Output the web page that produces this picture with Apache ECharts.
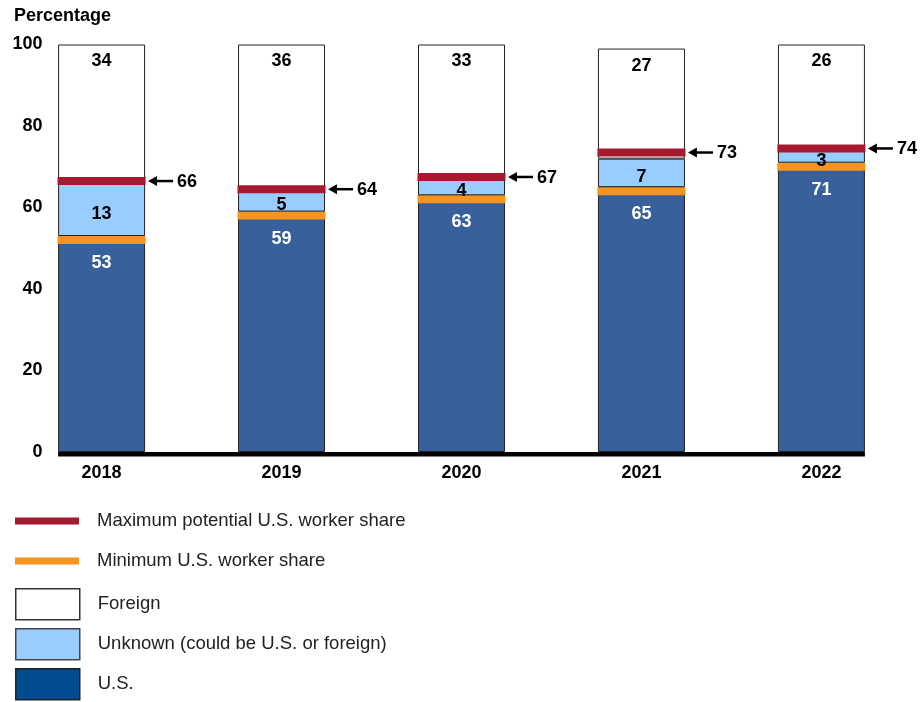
<!DOCTYPE html>
<html>
<head>
<meta charset="utf-8">
<script src="https://cdn.jsdelivr.net/npm/echarts@6/dist/echarts.min.js"></script>
<style>
html, body { margin: 0; padding: 0; background: #fff; }
#chart { width: 923px; height: 702px; }
</style>
</head>
<body>
<div id="chart"></div>
<script>
var years = ['2018', '2019', '2020', '2021', '2022'];
var usShare = [53, 59, 63, 65, 71];
var unknownShare = [13, 5, 4, 7, 3];
var foreignShare = [34, 36, 33, 27, 26];
var maxShare = [66, 64, 67, 73, 74];
var yTicks = [0, 20, 40, 60, 80, 100];

var FONT = '"Liberation Sans", Arial, sans-serif';
var US_C = '#38609b', UNK_C = '#99ccff', RED = '#a6192e', ORANGE = '#f7941d';
var barW = 87;

var chart = echarts.init(document.getElementById('chart'));

function bold(size) {
    return { fontFamily: FONT, fontWeight: 'bold', fontSize: size, color: '#000' };
}

// red band + arrow + value for the max potential share
function renderMax(params, api) {
    var p = api.coord([api.value(0), api.value(1)]);
    var half = barW / 2;
    var x1 = p[0] + half;
    return {
        type: 'group',
        children: [
            { type: 'rect', shape: { x: p[0] - half - 0.5, y: p[1] - 6, width: barW + 1, height: 8 }, style: { fill: RED } },
            { type: 'line', shape: { x1: x1 + 9, y1: p[1] - 2, x2: x1 + 28, y2: p[1] - 2 }, style: { stroke: '#000', lineWidth: 2.5 } },
            { type: 'polygon', shape: { points: [[x1 + 3, p[1] - 2], [x1 + 12, p[1] - 7], [x1 + 12, p[1] + 3]] }, style: { fill: '#000' } },
            { type: 'text', style: { text: String(api.value(1)), x: x1 + 32, y: p[1] - 1, verticalAlign: 'middle', font: 'bold 18px ' + FONT, fill: '#000' } }
        ]
    };
}

// orange band sitting just under the top of the U.S. segment
function renderMin(params, api) {
    var p = api.coord([api.value(0), api.value(1)]);
    var half = barW / 2;
    return {
        type: 'rect',
        shape: { x: p[0] - half - 0.5, y: p[1], width: barW + 1, height: 8 },
        style: { fill: ORANGE }
    };
}

// thick baseline from first bar to last bar
function renderBase(params, api) {
    var a = api.coord([0, 0]);
    var b = api.coord([years.length - 1, 0]);
    var half = barW / 2;
    return {
        type: 'rect',
        shape: { x: a[0] - half, y: a[1], width: b[0] - a[0] + barW, height: 4.5 },
        style: { fill: '#000' }
    };
}

// one legend per row so nothing wraps into a second column
var legendRows = [
    { name: 'Maximum potential U.S. worker share', top: 511, h: 7 },
    { name: 'Minimum U.S. worker share', top: 551, h: 7 },
    { name: 'Foreign', top: 588, h: 31, itemStyle: { color: '#fff', borderColor: '#333', borderWidth: 1.5 } },
    { name: 'Unknown (could be U.S. or foreign)', top: 628, h: 31, itemStyle: { color: UNK_C, borderColor: '#444', borderWidth: 1.5 } },
    { name: 'U.S.', top: 668, h: 31, itemStyle: { color: '#034b8f', borderColor: '#222', borderWidth: 1.5 } }
];

var legends = legendRows.map(function (r) {
    var item = { name: r.name };
    if (r.itemStyle) item.itemStyle = r.itemStyle;
    return {
        left: 15,
        top: r.top,
        padding: 0,
        itemWidth: 64,
        itemHeight: r.h,
        icon: 'rect',
        selectedMode: false,
        textStyle: { fontFamily: FONT, fontSize: 18.5, color: '#222', lineHeight: 20, padding: [0, 0, 0, 13] },
        data: [item]
    };
});

var option = {
    backgroundColor: '#fff',
    animation: false,
    title: {
        text: 'Percentage',
        left: 9,
        top: 2,
        textStyle: bold(18)
    },
    grid: { left: 11.6, right: 11.6, top: 44.5, bottom: 250 },
    legend: legends,
    xAxis: {
        type: 'category',
        data: years,
        axisLine: { show: false },
        axisTick: { show: false },
        axisLabel: Object.assign({ margin: 12 }, bold(18))
    },
    yAxis: {
        type: 'value',
        min: 0,
        max: 100,
        interval: 20,
        splitLine: { show: false },
        axisLine: { show: false },
        axisTick: { show: false },
        axisLabel: Object.assign({
            inside: true,
            align: 'right',
            margin: 31,
            padding: [0, 0, 6, 0],
            formatter: function (v) { return yTicks.indexOf(v) >= 0 ? String(v) : ''; }
        }, bold(18))
    },
    series: [
        {
            name: 'U.S.',
            type: 'bar',
            stack: 'share',
            barWidth: barW,
            data: usShare,
            itemStyle: { color: US_C, borderColor: '#222', borderWidth: 1 },
            label: Object.assign({ show: true, position: 'insideTop', distance: 18 }, bold(18), { color: '#fff' })
        },
        {
            name: 'Unknown (could be U.S. or foreign)',
            type: 'bar',
            stack: 'share',
            z: 5,
            barWidth: barW,
            data: unknownShare,
            itemStyle: { color: UNK_C, borderColor: '#222', borderWidth: 1 },
            label: Object.assign({ show: true, position: 'inside', offset: [0, 4] }, bold(18))
        },
        {
            name: 'Foreign',
            type: 'bar',
            stack: 'share',
            barWidth: barW,
            data: foreignShare,
            itemStyle: { color: '#fff', borderColor: '#222', borderWidth: 1 },
            label: Object.assign({ show: true, position: 'insideTop', distance: 8 }, bold(18))
        },
        {
            name: 'Minimum U.S. worker share',
            type: 'custom',
            z: 4,
            itemStyle: { color: ORANGE },
            renderItem: renderMin,
            data: usShare.map(function (v, i) { return [i, v]; })
        },
        {
            name: 'Maximum potential U.S. worker share',
            type: 'custom',
            z: 6,
            itemStyle: { color: RED },
            renderItem: renderMax,
            data: maxShare.map(function (v, i) { return [i, v]; })
        },
        {
            name: 'baseline',
            type: 'custom',
            z: 7,
            silent: true,
            renderItem: renderBase,
            data: [[0, 0]]
        }
    ]
};

chart.setOption(option);
</script>
</body>
</html>
